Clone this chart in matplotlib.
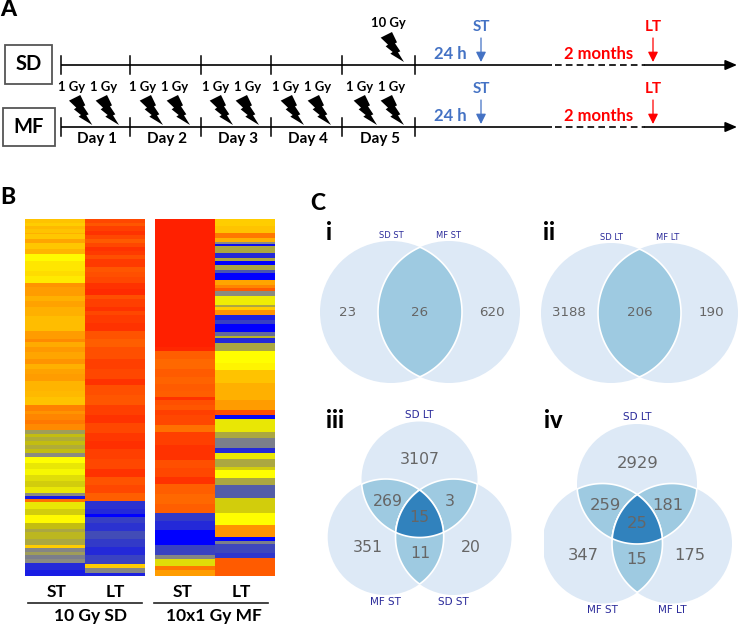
import numpy as np
import matplotlib
matplotlib.use("Agg")
import matplotlib.pyplot as plt
from matplotlib.colors import LinearSegmentedColormap
from matplotlib.patches import Circle, Polygon, Rectangle

# ---------- data ----------
# Heatmap columns as runs: row where each band ends + colour-scale value of the band
sd_st_ends = [4,7,10,14,15,20,24,30,35,42,52,57,64,68,77,82,88,97,112,120,123,128,133,140,145,150,155,162,172,178,186,
              192,195,201,205,211,215,218,222,226,230,234,238,244,250,256,262,268,274,277,280,283,290,296,304,310,313,320,326,329,333,336,340,344,351,357]
sd_st_vals = [.62,.60,.64,.62,.66,.61,.68,.61,.65,.51,.55,.57,.54,.72,.70,.66,.69,.66,.63,.70,.74,.67,.71,.68,.72,.66,.69,.70,.65,.64,.62,
              .76,.72,.75,.78,.74,.36,.42,.39,.42,.39,.42,.33,.50,.47,.49,.46,.44,.47,.33,.06,.80,.47,.44,.51,.42,.38,.41,.38,.60,.32,.36,.30,.33,.10,.07]
sd_lt_ends = [4,7,12,16,20,24,28,32,36,40,48,53,58,64,70,76,80,88,92,96,104,112,120,128,140,150,160,166,176,186,196,204,214,222,230,240,250,258,266,274,282,
              290,295,298,304,312,320,328,336,345,349,354,357]
sd_lt_vals = [.90,.86,.92,.95,.90,.85,.90,.95,.93,.88,.93,.86,.88,.90,.95,.97,.88,.92,.95,.90,.93,.95,.87,.84,.88,.92,.90,.95,.88,.86,.92,.95,.90,.94,.96,.92,.90,.95,.87,.90,.84,
              .12,.10,.0,.15,.12,.18,.14,.10,.16,.60,.32,.08]
mf_st_ends = [128,132,140,150,158,165,172,178,181,186,191,196,206,213,226,241,249,258,265,275,285,294,302,311,326,336,340,347,351,357]
mf_st_vals = [1.0,.98,.84,.82,.85,.83,.85,.84,.95,.88,.86,.92,.90,.80,.92,.95,.88,.90,.95,.84,.82,.84,.14,.10,.0,.16,.32,.46,.78,.70]
mf_lt_ends = [7,14,19,23,25,27,34,39,42,46,51,54,61,66,69,72,77,86,88,91,96,101,105,113,117,119,124,132,144,151,164,181,191,196,200,213,219,229,234,240,248,251,259,266,279,294,306,318,322,325,334,339,348,357]
mf_lt_vals = [.60,.62,.78,.66,.33,.03,.38,.10,.38,.0,.38,.20,.0,.68,.75,.85,.33,.48,.38,.60,.72,.08,.15,.0,.25,.40,.10,.38,.50,.52,.62,.66,.70,.88,.02,.47,.38,.30,.10,.47,.38,.44,.50,.38,.22,.44,.50,.72,.0,.30,.17,.13,.85,.85]

cols = ["ST", "LT"]
sd_title = "10 Gy SD"
mf_title = "10x1 Gy MF"
days = ["Day 1", "Day 2", "Day 3", "Day 4", "Day 5"]
dose_label = "1 Gy"
groups = ["SD", "MF"]

venn_i = [("SD ST", "MF ST"), ["23", "26", "620"]]
venn_ii = [("SD LT", "MF LT"), ["3188", "206", "190"]]
venn_iii = [("SD LT", "MF ST", "SD ST"), ["3107", "269", "3", "15", "351", "11", "20"]]
venn_iv = [("SD LT", "MF ST", "MF LT"), ["2929", "259", "181", "25", "347", "15", "175"]]

# ---------- figure in reference pixels ----------
plt.rcParams["font.family"] = ["Lato", "DejaVu Sans"]
fig = plt.figure(figsize=(7.56, 6.38), dpi=100)
ax = fig.add_axes([0, 0, 1, 1])
BLUE, RED = "#4472C4", "#FF0000"
kw = dict(ha="center", va="center", fontweight="bold")

# ---------- panel A ----------
bolt = np.array([(207,302),(241,285),(256,316),(250,319),(266,343),(259,346),(277,375),
                 (236,350),(243,345),(222,328),(229,323)], float)
bolt = (bolt - [277, 375]) / 3
def draw_bolt(x, y):
    ax.add_patch(Polygon(bolt + [x, y], closed=True, fc="black", ec="none", zorder=4))

ticks_x = [61, 130, 201, 271, 342, 415]
for gy, name, box in [(65, "SD", (5, 45, 47, 39)), (127, "MF", (2.5, 108, 52, 38))]:
    ax.add_patch(Rectangle(box[:2], box[2], box[3], fc="white", ec="#555555", lw=1.3))
    ax.text(box[0] + box[2] / 2, box[1] + box[3] / 2, name, fontsize=14.5, **kw)
    ax.plot([61, 552], [gy, gy], color="black", lw=1.2, solid_capstyle="butt")
    ax.plot([555, 645], [gy, gy], color="black", lw=1.2, dashes=(4, 2.5))
    ax.annotate("", xy=(737, gy), xytext=(645, gy),
                arrowprops=dict(arrowstyle="-|>,head_length=0.7,head_width=0.3", color="black", lw=1.2,
                                shrinkA=0, shrinkB=0))
    for tx in ticks_x:
        ax.plot([tx, tx], [gy - 9, gy + 9], color="black", lw=1.1)
    ax.text(450, gy - 11, "24 h", color=BLUE, fontsize=12, **kw)
    ax.text(599, gy - 11, "2 months", color=RED, fontsize=12, **kw)
    ax.text(481, gy - 38, "ST", color=BLUE, fontsize=11, **kw)
    ax.text(653, gy - 38, "LT", color=RED, fontsize=11, **kw)
    for ax_x, c in [(481, BLUE), (653, RED)]:
        ax.annotate("", xy=(ax_x, gy - 3), xytext=(ax_x, gy - 27),
                    arrowprops=dict(arrowstyle="-|>,head_length=0.6,head_width=0.3", color=c, lw=0.9,
                                    shrinkA=0, shrinkB=0))

for x in [72, 104, 143, 175, 216, 248, 286, 318, 360, 392]:
    ax.text(x, 87, dose_label, fontsize=9.4, **kw)
for x in [92.3, 119, 163, 190, 233, 259, 304, 331, 377, 404]:
    draw_bolt(x, 125)
for x, d in zip([97, 167, 238, 308, 380], days):
    ax.text(x, 139, d, fontsize=11, **kw)
ax.text(388, 23, "10 Gy", fontsize=9.4, **kw)
draw_bolt(404, 62)

# ---------- panel B ----------
cmap = LinearSegmentedColormap.from_list("heat", [
    (0.0, "#0000FF"), (0.2, "#4A55B0"), (0.33, "#8C8C80"), (0.42, "#C4BE10"), (0.5, "#FFFF00"),
    (0.63, "#FFBE00"), (0.8, "#FF7000"), (1.0, "#FF2000")])
def column(ends, vals):
    return np.repeat(vals, np.diff([0] + ends))
for left, mid, right, a, b in [
        (25, 84.5, 144, (sd_st_ends, sd_st_vals), (sd_lt_ends, sd_lt_vals)),
        (155, 214.5, 274, (mf_st_ends, mf_st_vals), (mf_lt_ends, mf_lt_vals))]:
    ax.imshow(column(*a)[:, None], cmap=cmap, vmin=0, vmax=1, aspect="auto",
              extent=(left, mid, 576, 219), interpolation="nearest")
    ax.imshow(column(*b)[:, None], cmap=cmap, vmin=0, vmax=1, aspect="auto",
              extent=(mid, right, 576, 219), interpolation="nearest")

ax.text(57, 592, cols[0], fontsize=12.5, **kw)
ax.text(115, 592, cols[1], fontsize=12.5, **kw)
ax.plot([28, 142], [603, 603], color="#222222", lw=1.2)
ax.text(91, 616, sd_title, fontsize=12.5, **kw)
ax.text(183, 592, cols[0], fontsize=12.5, **kw)
ax.text(241, 592, cols[1], fontsize=12.5, **kw)
ax.plot([154, 268], [603, 603], color="#222222", lw=1.2)
ax.text(214, 616, mf_title, fontsize=12.5, **kw)

# ---------- panel C ----------
LIGHT, MID, DARK = "#DDE9F6", "#9ECAE1", "#3182BD"
def region(circles):
    """Polygon of the area shared by all circles (c = (x, y, r))."""
    t = np.linspace(0, 2 * np.pi, 720, endpoint=False)
    pts = []
    for i, (x, y, r) in enumerate(circles):
        p = np.c_[x + r * np.cos(t), y + r * np.sin(t)]
        for j, (u, v, s) in enumerate(circles):
            if j != i:
                p = p[np.hypot(p[:, 0] - u, p[:, 1] - v) <= s]
        pts.append(p)
    pts = np.vstack(pts)
    c = pts.mean(axis=0)
    return pts[np.argsort(np.arctan2(pts[:, 1] - c[1], pts[:, 0] - c[0]))]

def venn(circles, clip=None):
    base = []
    for x, y, r in circles:
        p = Circle((x, y), r, fc=LIGHT, ec="none", zorder=2)
        ax.add_patch(p)
        base.append(p)
    n = len(circles)
    extra = []
    for i in range(n):
        for j in range(i + 1, n):
            extra.append(Polygon(region([circles[i], circles[j]]), fc=MID, ec="white", lw=1.2, zorder=3))
    if n == 3:
        extra.append(Polygon(region(circles), fc=DARK, ec="white", lw=1.2, zorder=4))
    for p in extra:
        ax.add_patch(p)
    if clip is not None:
        for p in base + extra:
            p.set_clip_path(Rectangle(clip[:2], clip[2], clip[3], transform=ax.transData))

def vtext(pos, strs, size, color="#666666"):
    for (x, y), s in zip(pos, strs):
        ax.text(x, y, s, fontsize=size, color=color, ha="center", va="center",
                family="DejaVu Sans", zorder=6)

NAVY = "#2A2A9A"
venn([(391, 312, 71), (449, 312, 71)])
vtext([(348, 313), (420, 313), (492, 313)], venn_i[1], 9.6)
vtext([(391, 236), (449, 236)], venn_i[0], 6.0, NAVY)
venn([(611, 313, 70), (668, 313, 70)])
vtext([(569, 313), (640, 313), (711, 313)], venn_ii[1], 9.6)
vtext([(611, 238), (668, 238)], venn_ii[0], 6.0, NAVY)
venn([(419.5, 479.5, 58), (385.7, 537, 58), (453.5, 537, 58)])
vtext([(420, 459), (388, 501), (450, 501), (419, 518), (368, 548), (420, 554), (471, 548)], venn_iii[1], 11.3)
vtext([(419, 415), (385, 602), (453, 602)], venn_iii[0], 7.5, NAVY)
venn([(637, 484, 60), (602.5, 543.5, 60), (672, 543.5, 60)], clip=(544, 400, 212, 238))
vtext([(638, 463), (605, 506), (668, 506), (637, 524), (583, 555), (637, 560), (690, 555)], venn_iv[1], 11.8)
vtext([(637, 417), (602, 610), (672, 610)], venn_iv[0], 7.5, NAVY)

for x, y, s, fs in [(8, 9, "A", 16.5), (8, 197, "B", 16.5), (318, 203, "C", 16.5),
                    (329, 232, "i", 17), (549.5, 232, "ii", 17), (335, 421, "iii", 17), (553, 421, "iv", 17)]:
    ax.text(x, y, s, fontsize=fs, zorder=6, ha="center", va="center", fontweight="black")

ax.set_xlim(0, 756)
ax.set_ylim(638, 0)
ax.axis("off")
fig.savefig("out.png", dpi=100)
